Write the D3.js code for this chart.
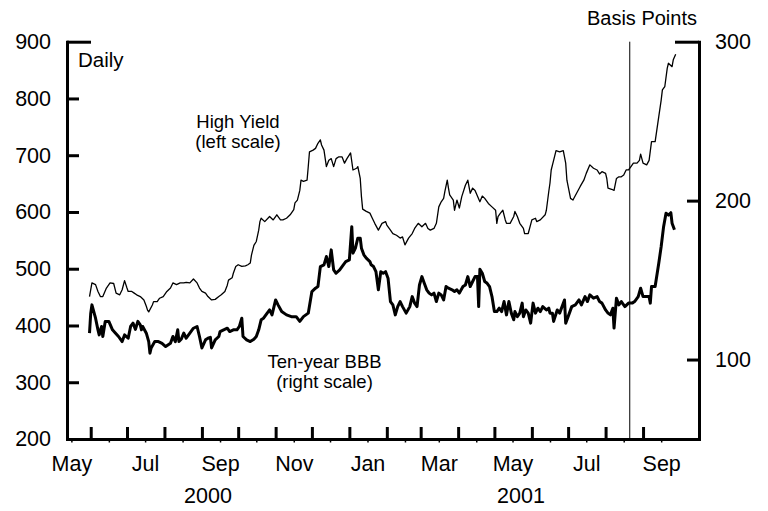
<!DOCTYPE html>
<html>
<head>
<meta charset="utf-8">
<script src="https://cdn.jsdelivr.net/npm/d3@7"></script>
<style>
  body { margin: 0; background: #fff; }
  svg { display: block; }
  text { font-family: "Liberation Sans", Arial, Helvetica, sans-serif; fill: #000; }
</style>
</head>
<body>
<svg id="chart" width="768" height="511"></svg>
<script>
// High-yield spread, daily (left scale)
const hyDates = [
  "2000-05-31","2000-06-02","2000-06-05","2000-06-07","2000-06-09","2000-06-11","2000-06-14","2000-06-17","2000-06-20","2000-06-22",
  "2000-06-25","2000-06-27","2000-06-29","2000-07-01","2000-07-02","2000-07-05","2000-07-07","2000-07-09","2000-07-12","2000-07-15",
  "2000-07-17","2000-07-18","2000-07-19","2000-07-22","2000-07-23","2000-07-26","2000-07-28","2000-07-31","2000-08-03","2000-08-06",
  "2000-08-08","2000-08-11","2000-08-14","2000-08-17","2000-08-19","2000-08-22","2000-08-25","2000-08-28","2000-08-30","2000-09-01",
  "2000-09-04","2000-09-06","2000-09-09","2000-09-12","2000-09-15","2000-09-17","2000-09-20","2000-09-22","2000-09-23","2000-09-26",
  "2000-09-27","2000-09-29","2000-10-01","2000-10-04","2000-10-07","2000-10-09","2000-10-11","2000-10-12","2000-10-14","2000-10-16",
  "2000-10-18","2000-10-19","2000-10-20","2000-10-23","2000-10-27","2000-10-30","2000-11-02","2000-11-05","2000-11-07","2000-11-10",
  "2000-11-13","2000-11-16","2000-11-17","2000-11-19","2000-11-21","2000-11-22","2000-11-24","2000-11-27","2000-11-28","2000-11-29",
  "2000-12-02","2000-12-04","2000-12-06","2000-12-08","2000-12-09","2000-12-11","2000-12-13","2000-12-15","2000-12-17","2000-12-19",
  "2000-12-21","2000-12-23","2000-12-26","2000-12-28","2000-12-30","2001-01-02","2001-01-04","2001-01-07","2001-01-08","2001-01-10",
  "2001-01-11","2001-01-12","2001-01-15","2001-01-18","2001-01-20","2001-01-22","2001-01-25","2001-01-28","2001-01-31","2001-02-01",
  "2001-02-04","2001-02-06","2001-02-09","2001-02-12","2001-02-14","2001-02-16","2001-02-19","2001-02-22","2001-02-24","2001-02-27",
  "2001-03-02","2001-03-05","2001-03-07","2001-03-09","2001-03-12","2001-03-14","2001-03-16","2001-03-18","2001-03-20","2001-03-21",
  "2001-03-23","2001-03-24","2001-03-25","2001-03-28","2001-03-29","2001-03-31","2001-04-02","2001-04-04","2001-04-07","2001-04-09",
  "2001-04-11","2001-04-13","2001-04-15","2001-04-19","2001-04-21","2001-04-23","2001-04-26","2001-04-29","2001-05-02","2001-05-03",
  "2001-05-04","2001-05-06","2001-05-08","2001-05-10","2001-05-11","2001-05-14","2001-05-17","2001-05-18","2001-05-20","2001-05-22",
  "2001-05-25","2001-05-26","2001-05-29","2001-06-01","2001-06-04","2001-06-05","2001-06-08","2001-06-12","2001-06-13","2001-06-15",
  "2001-06-16","2001-06-17","2001-06-19","2001-06-21","2001-06-24","2001-06-27","2001-06-29","2001-06-30","2001-07-03","2001-07-05",
  "2001-07-08","2001-07-11","2001-07-14","2001-07-16","2001-07-19","2001-07-22","2001-07-25","2001-07-27","2001-07-29","2001-08-01",
  "2001-08-02","2001-08-03","2001-08-06","2001-08-08","2001-08-10","2001-08-12","2001-08-14","2001-08-16","2001-08-18","2001-08-20",
  "2001-08-22","2001-08-24","2001-08-27","2001-08-29","2001-08-30","2001-09-01","2001-09-04","2001-09-06","2001-09-08","2001-09-11",
  "2001-09-14","2001-09-16","2001-09-17","2001-09-19","2001-09-21","2001-09-22","2001-09-25","2001-09-26","2001-09-28"
];
const hyValues = [
  451,475,472,460,451,451,466,475,474,457,
  454,463,479,466,460,460,457,454,451,445,
  434,427,424,436,442,442,448,451,460,466,
  475,472,475,475,476,475,482,475,466,460,
  457,451,445,446,451,454,460,471,480,484,
  492,504,507,504,505,507,510,524,541,548,
  568,583,589,583,592,586,595,586,586,589,
  595,604,616,621,638,656,654,656,680,706,
  709,712,721,727,718,709,680,691,694,680,
  694,697,697,686,694,704,674,677,680,659,
  627,605,601,598,589,580,568,580,583,577,
  568,562,559,554,556,542,554,562,571,580,
  574,580,571,568,571,580,609,618,624,636,
  656,642,630,621,603,621,607,627,647,656,
  633,642,638,618,628,624,615,609,603,580,
  592,598,603,586,580,580,592,601,592,580,
  571,562,562,586,589,583,586,595,603,636,
  651,674,691,708,706,708,686,656,624,621,
  633,645,656,668,683,677,674,667,671,668,
  659,642,640,638,659,662,662,665,674,674,
  680,686,686,691,702,686,683,691,724,724,
  768,797,815,821,853,862,856,868,878
];

// Ten-year BBB spread, daily (right scale)
const bbbDates = [
  "2000-05-31","2000-06-01","2000-06-02","2000-06-05","2000-06-07","2000-06-08","2000-06-10","2000-06-11","2000-06-13","2000-06-16",
  "2000-06-19","2000-06-21","2000-06-24","2000-06-27","2000-06-29","2000-07-02","2000-07-04","2000-07-06","2000-07-08","2000-07-10",
  "2000-07-12","2000-07-13","2000-07-14","2000-07-17","2000-07-19","2000-07-20","2000-07-21","2000-07-24","2000-07-27","2000-07-30",
  "2000-08-02","2000-08-06","2000-08-08","2000-08-10","2000-08-12","2000-08-13","2000-08-15","2000-08-17","2000-08-19","2000-08-22",
  "2000-08-25","2000-08-28","2000-08-30","2000-09-01","2000-09-04","2000-09-06","2000-09-08","2000-09-09","2000-09-12","2000-09-15",
  "2000-09-16","2000-09-19","2000-09-22","2000-09-24","2000-09-27","2000-09-30","2000-10-02","2000-10-04","2000-10-05","2000-10-08",
  "2000-10-11","2000-10-14","2000-10-16","2000-10-18","2000-10-20","2000-10-22","2000-10-25","2000-10-27","2000-10-29","2000-11-01",
  "2000-11-03","2000-11-06","2000-11-10","2000-11-14","2000-11-18","2000-11-21","2000-11-24","2000-11-28","2000-12-01","2000-12-04",
  "2000-12-06","2000-12-08","2000-12-11","2000-12-13","2000-12-15","2000-12-17","2000-12-19","2000-12-21","2000-12-24","2000-12-27",
  "2000-12-29","2001-01-01","2001-01-03","2001-01-04","2001-01-06","2001-01-08","2001-01-10","2001-01-11","2001-01-13","2001-01-15",
  "2001-01-18","2001-01-19","2001-01-21","2001-01-23","2001-01-25","2001-01-27","2001-01-29","2001-01-31","2001-02-02","2001-02-04",
  "2001-02-06","2001-02-08","2001-02-10","2001-02-12","2001-02-14","2001-02-17","2001-02-20","2001-02-22","2001-02-24","2001-02-26",
  "2001-02-28","2001-03-02","2001-03-04","2001-03-06","2001-03-08","2001-03-10","2001-03-12","2001-03-14","2001-03-16","2001-03-18",
  "2001-03-20","2001-03-22","2001-03-24","2001-03-27","2001-03-29","2001-03-31","2001-04-02","2001-04-05","2001-04-07","2001-04-09",
  "2001-04-11","2001-04-13","2001-04-15","2001-04-17","2001-04-18","2001-04-19","2001-04-21","2001-04-23","2001-04-25","2001-04-27",
  "2001-04-29","2001-05-01","2001-05-03","2001-05-05","2001-05-07","2001-05-09","2001-05-11","2001-05-13","2001-05-15","2001-05-17",
  "2001-05-18","2001-05-20","2001-05-22","2001-05-24","2001-05-25","2001-05-27","2001-05-29","2001-05-31","2001-06-02","2001-06-04",
  "2001-06-06","2001-06-08","2001-06-10","2001-06-13","2001-06-15","2001-06-16","2001-06-18","2001-06-19","2001-06-22","2001-06-24",
  "2001-06-28","2001-06-29","2001-07-01","2001-07-04","2001-07-07","2001-07-10","2001-07-12","2001-07-15","2001-07-17","2001-07-19",
  "2001-07-22","2001-07-25","2001-07-27","2001-07-29","2001-08-01","2001-08-03","2001-08-05","2001-08-07","2001-08-08","2001-08-10",
  "2001-08-12","2001-08-14","2001-08-17","2001-08-20","2001-08-23","2001-08-25","2001-08-28","2001-08-30","2001-09-01","2001-09-04",
  "2001-09-06","2001-09-07","2001-09-08","2001-09-11","2001-09-14","2001-09-16","2001-09-18","2001-09-20","2001-09-22","2001-09-24",
  "2001-09-25","2001-09-27"
];
const bbbValues = [
  116.6,129,134.4,126,118.7,115.5,120.8,114.5,124,124,
  118.7,117,114.5,111.3,115.5,113.4,120.8,122.9,119,124,
  121.8,118.7,120.8,116.6,111.3,104,107.3,111.3,111.3,110.2,
  108.2,110.2,114.5,111.3,118.7,111.3,113,116.6,113.4,116.6,
  119.7,120.8,114.5,107.3,112.4,113.4,114,107.3,112.4,114.5,
  117.6,118.7,119.7,117.6,118.7,118.7,120.8,126,114.5,112.4,
  111.3,112.8,114.5,118.7,125,126,129.2,131.2,128.1,137.5,
  134.4,130.2,128.1,127,127,124,127,129.2,142.8,144.9,
  145.9,158.5,159.6,164.8,158.5,169,156.4,154.3,156.4,159.6,
  161.6,162.7,183.6,166.9,170.1,176.4,176.4,170.1,165.9,163.8,
  161.6,159.6,158.5,155.3,143.9,155.3,154.3,155.3,151.2,136.5,
  134.4,128.1,133.3,136.5,133.3,129.2,133.3,139.6,135.5,133.3,
  146.9,152.2,148,143.9,141.8,140.7,141.8,136.5,141.8,140.7,
  137.5,145.9,144.9,143.9,142.8,143.9,141.8,145.9,146.9,152.2,
  145.9,149.1,152.2,152.2,133.3,156.8,154.3,149.1,148,145.9,
  139.6,130.2,130.2,132.3,130.2,136.5,128.1,136.5,129.2,125,
  130.2,127,129.2,135.5,127,131.2,129.2,122.9,135.5,129.2,
  132.3,130.2,133.3,131.2,132.3,129.2,129.2,124,131.2,129.2,
  137.5,122.9,127,133.3,134.4,137.5,134.4,139.6,136.5,140.7,
  138.6,139.6,136.5,135.5,131.2,129.2,128.1,132.3,119.8,138.6,
  134.4,136.5,133.3,135.5,135.5,136.5,139.6,144.9,139.6,139.6,
  139.6,135.5,145.9,145.9,160.6,171.1,183.6,192,190.9,192.4,
  185.8,181.6
];

// Axis ticks and labels
const leftTicks = [200, 300, 400, 500, 600, 700, 800, 900];
const rightTicks = [100, 200, 300];
const monthLabels = ["May", "Jul", "Sep", "Nov", "Jan", "Mar", "May", "Jul", "Sep"];
const monthLabelDates = ["2000-05-16","2000-07-16","2000-09-16","2000-11-16","2001-01-16","2001-03-16","2001-05-16","2001-07-16","2001-09-16"];
const yearLabels = ["2000", "2001"];
const yearLabelDates = ["2000-09-06", "2001-05-23"];
const eventDate = "2001-08-21";

const parse = d3.timeParse("%Y-%m-%d");
const hy = hyDates.map((d, i) => ({ date: parse(d), v: hyValues[i] }));
const bbb = bbbDates.map((d, i) => ({ date: parse(d), v: bbbValues[i] }));

const svg = d3.select("#chart");
const L = 67, R = 699, T = 41.7, B = 439;

const x = d3.scaleTime()
  .domain([new Date(2000, 4, 12, 9), new Date(2001, 9, 17, 7)])
  .range([L, R]);
const yL = d3.scaleLinear().domain([200, 900]).range([B, T]);
const yR = d3.scaleLinear().domain([50, 300]).range([B, T]);

const FS = "21.5px";

function styleAxis(g, w) {
  g.selectAll(".domain").attr("stroke", "#000").attr("stroke-width", w).attr("stroke-linecap", "square");
  g.selectAll(".tick line").attr("stroke", "#000").attr("stroke-width", w);
}

// Event marker
const ex = x(parse(eventDate));
svg.append("line")
  .attr("x1", ex).attr("x2", ex).attr("y1", T).attr("y2", B)
  .attr("stroke", "#000").attr("stroke-width", 1);

// Series
svg.append("path").datum(hy)
  .attr("fill", "none").attr("stroke", "#000").attr("stroke-width", 1.3)
  .attr("stroke-linejoin", "round")
  .attr("d", d3.line().x(d => x(d.date)).y(d => yL(d.v)));

svg.append("path").datum(bbb)
  .attr("fill", "none").attr("stroke", "#000").attr("stroke-width", 3)
  .attr("stroke-linejoin", "round")
  .attr("d", d3.line().x(d => x(d.date)).y(d => yR(d.v)));

// Bottom axis: month ticks pointing up
const monthStarts = d3.timeMonth.range(new Date(2000, 5, 1), new Date(2001, 8, 2));
const gB = svg.append("g").attr("transform", `translate(0,${B})`)
  .call(d3.axisTop(x).tickValues(monthStarts).tickSize(12).tickSizeOuter(0).tickFormat(""));
styleAxis(gB, 3);

// small marks at mid-month below the axis
const midMonths = d3.timeMonth.range(new Date(2000, 4, 1), new Date(2001, 9, 1))
  .map(d => d3.timeDay.offset(d, 15)).filter(d => x(d) > L + 2 && x(d) < R - 2);
const gBm = svg.append("g").attr("transform", `translate(0,${B})`)
  .call(d3.axisBottom(x).tickValues(midMonths).tickSize(3.5).tickFormat(""));
gBm.select(".domain").remove();
gBm.selectAll(".tick line").attr("stroke", "#000").attr("stroke-width", 1.5);

// Month labels
const gBl = svg.append("g").attr("transform", `translate(0,${B})`)
  .call(d3.axisBottom(x).tickValues(monthLabelDates.map(parse)).tickSize(0).tickPadding(17)
    .tickFormat((d, i) => monthLabels[i]));
gBl.select(".domain").remove();
gBl.selectAll("text").attr("font-size", FS).attr("font-family", null);

// Year labels
svg.append("g").selectAll("text").data(yearLabels).join("text")
  .attr("x", (d, i) => x(parse(yearLabelDates[i])))
  .attr("y", 503)
  .attr("text-anchor", "middle")
  .attr("font-size", FS)
  .text(d => d);

// Left axis: ticks inward, long tick at the top
const gLt = svg.append("g").attr("transform", `translate(${L},0)`)
  .call(d3.axisRight(yL).tickValues(leftTicks.slice(1)).tickSize(12).tickSizeOuter(0).tickFormat(""));
styleAxis(gLt, 3);
gLt.selectAll(".tick").filter(d => d === 900).select("line").attr("x2", 24);

const gLl = svg.append("g").attr("transform", `translate(${L},0)`)
  .call(d3.axisLeft(yL).tickValues(leftTicks).tickSize(0).tickPadding(16));
gLl.select(".domain").remove();
gLl.selectAll("text").attr("font-size", FS).attr("font-family", null);

// Right axis: ticks inward, long tick at the top
const gRt = svg.append("g").attr("transform", `translate(${R},0)`)
  .call(d3.axisLeft(yR).tickValues(rightTicks).tickSize(12).tickSizeOuter(0).tickFormat(""));
styleAxis(gRt, 3);
gRt.selectAll(".tick").filter(d => d === 300).select("line").attr("x2", -24);

const gRl = svg.append("g").attr("transform", `translate(${R},0)`)
  .call(d3.axisRight(yR).tickValues(rightTicks).tickSize(0).tickPadding(16));
gRl.select(".domain").remove();
gRl.selectAll("text").attr("font-size", FS).attr("font-family", null);

// Annotations
svg.append("text").attr("x", 697).attr("y", 25).attr("text-anchor", "end")
  .attr("font-size", "20px").text("Basis Points");
svg.append("text").attr("x", 78).attr("y", 67)
  .attr("font-size", "20.5px").text("Daily");

const ann = [
  { t: "High Yield", x: 238, y: 127.5 },
  { t: "(left scale)", x: 238, y: 147.5 },
  { t: "Ten-year BBB", x: 324.5, y: 368 },
  { t: "(right scale)", x: 324.5, y: 388 }
];
svg.append("g").selectAll("text").data(ann).join("text")
  .attr("x", d => d.x).attr("y", d => d.y)
  .attr("text-anchor", "middle").attr("font-size", "18.5px")
  .text(d => d.t);
</script>
</body>
</html>
